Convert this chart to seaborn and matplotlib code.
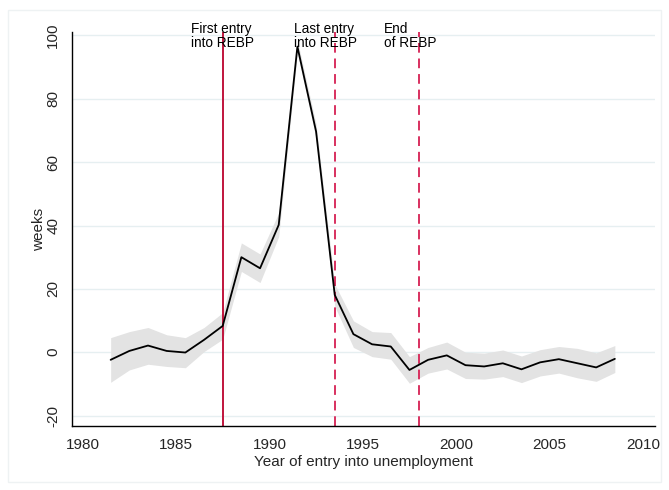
import numpy as np
import pandas as pd
import matplotlib
matplotlib.use("Agg")
import matplotlib.pyplot as plt
import seaborn as sns
from matplotlib.patches import Rectangle

# cohort effects
years = [1981.5, 1982.5, 1983.5, 1984.5, 1985.5, 1986.5, 1987.5, 1988.5, 1989.5, 1990.5,
         1991.5, 1992.5, 1993.5, 1994.5, 1995.5, 1996.5, 1997.5, 1998.5, 1999.5, 2000.5,
         2001.5, 2002.5, 2003.5, 2004.5, 2005.5, 2006.5, 2007.5, 2008.5]
weeks = [-2.4, 0.4, 2.1, 0.4, -0.1, 3.9, 8.3, 30.0, 26.5, 40.2,
         96.5, 69.7, 18.1, 5.7, 2.5, 1.8, -5.6, -2.4, -1.0, -4.1,
         -4.5, -3.5, -5.4, -3.2, -2.2, -3.5, -4.8, -2.1]
upper = [4.6, 6.5, 7.8, 5.5, 4.6, 7.8, 12.5, 34.5, 31.0, 44.0,
         98.5, 72.0, 21.5, 9.9, 6.5, 6.2, -1.4, 1.5, 3.2, 0.0,
         -0.3, 0.7, -1.2, 0.8, 1.8, 1.2, -0.2, 2.1]
lower = [-9.5, -5.6, -3.8, -4.5, -4.9, 0.2, 4.1, 25.5, 22.0, 36.5,
         94.5, 67.5, 14.5, 1.5, -1.4, -2.2, -9.8, -6.6, -5.3, -8.3,
         -8.5, -7.7, -9.6, -7.5, -6.6, -8.1, -9.2, -6.4]

# REBP timing markers
events = [1987.5, 1993.5, 1998.0]
event_styles = ["-", "--", "--"]
event_colors = ["#c0143c", "#d8305f", "#d8305f"]
event_labels = ["First entry\ninto REBP", "Last entry\ninto REBP", "End\nof REBP"]
label_x = [1985.8, 1991.3, 1996.15]

xticks = [1980, 1985, 1990, 1995, 2000, 2005, 2010]
yticks = [-20, 0, 20, 40, 60, 80, 100]

df = pd.DataFrame({"year": years, "weeks": weeks, "upper": upper, "lower": lower})

sns.set_style("white")
plt.rcParams["font.family"] = ["Liberation Sans", "DejaVu Sans"]
plt.rcParams["axes.unicode_minus"] = False

fig = plt.figure(figsize=(6.69, 4.90), dpi=100)
ax = fig.add_axes([72 / 669, 1 - 426 / 490, (655 - 72) / 669, (426 - 32) / 490])

# faint outer frame like the Stata graph region
fig.patches.append(Rectangle((8 / 669, 1 - 482 / 490), 653 / 669, 472 / 490,
                             transform=fig.transFigure, fill=False,
                             edgecolor="#eef2f3", linewidth=1.0))

for y in yticks:
    ax.axhline(y, color="#e6eff1", linewidth=1.0, zorder=0)

ax.fill_between(df["year"], df["lower"], df["upper"], color="#e3e3e3", linewidth=0, zorder=1)
sns.lineplot(data=df, x="year", y="weeks", color="black", linewidth=1.3, ax=ax, zorder=3)

for x, ls, c in zip(events, event_styles, event_colors):
    ax.axvline(x, color=c, linestyle=ls, linewidth=1.4, dashes=(5, 3) if ls == "--" else (None, None), zorder=2)

for x, txt in zip(label_x, event_labels):
    ax.text(x, 104.3, txt, ha="left", va="top", fontsize=9.8, color="black",
            linespacing=1.02, clip_on=False)

ax.set_xlim(1979.43, 2010.65)
ax.set_ylim(-23.3, 101.1)
ax.set_xticks(xticks)
ax.set_yticks(yticks)
ax.tick_params(axis="both", direction="out", length=5, width=1, labelsize=11, color="black")
plt.setp(ax.get_yticklabels(), rotation=90, va="center")
ax.set_xlabel("Year of entry into unemployment", fontsize=11, labelpad=2.5)
ax.set_ylabel("weeks", fontsize=11, labelpad=0)

for side in ["top", "right"]:
    ax.spines[side].set_visible(False)
for side in ["left", "bottom"]:
    ax.spines[side].set_color("black")
    ax.spines[side].set_linewidth(1.0)

fig.savefig("out.png", dpi=100)
